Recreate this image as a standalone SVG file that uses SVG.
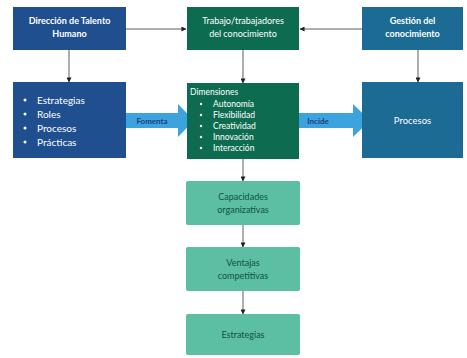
<svg xmlns="http://www.w3.org/2000/svg" width="467" height="358" viewBox="0 0 467 358">
<defs>
<style>
.t{font-family:Lato,"Open Sans","Liberation Sans",sans-serif;}
.w{fill:#ffffff;}
.g{fill:#0f5240;}
.hd{font-size:9px;font-weight:bold;text-anchor:middle;}
.c{text-anchor:middle;}
.navy{fill:#1f4f8f;}
.green{fill:#0d6b50;}
.steel{fill:#1c6b94;}
.teal{fill:#5cbfa4;}
.ln{stroke:#333333;stroke-width:0.8;fill:none;}
.blk{fill:#3ca3de;}
.al{font-size:8px;font-weight:bold;fill:#1d3f7c;text-anchor:middle;}
</style>
<marker id="ah" viewBox="0 0 6 6" refX="5.5" refY="3" markerWidth="5" markerHeight="5" markerUnits="userSpaceOnUse" orient="auto">
<path d="M0,0 L6,3 L0,6 Z" fill="#222"/>
</marker>
</defs>
<rect width="467" height="358" fill="#ffffff"/>

<g id="connectors">
<path class="ln" d="M126,29 H186" marker-end="url(#ah)"/>
<path class="ln" d="M362,29 H300" marker-end="url(#ah)"/>
<path class="ln" d="M69,50 V82" marker-end="url(#ah)"/>
<path class="ln" d="M243,50 V83" marker-end="url(#ah)"/>
<path class="ln" d="M418,50 V82" marker-end="url(#ah)"/>
<path class="ln" d="M243,159 V181" marker-end="url(#ah)"/>
<path class="ln" d="M243,225 V247" marker-end="url(#ah)"/>
<path class="ln" d="M243,291 V314" marker-end="url(#ah)"/>
<g id="fomenta">
<path class="blk" d="M126,113 H178 V104 L194,120.5 L178,137 V128 H126 Z"/>
<text class="t al" x="152" y="123.5">Fomenta</text>
</g>
<g id="incide">
<path class="blk" d="M291,113 H353 V104 L370,120.5 L353,137 V128 H291 Z"/>
<text class="t al" x="318" y="123.5">Incide</text>
</g>
</g>

<g id="direccion">
<rect class="navy" x="13" y="7" width="113" height="43"/>
<text class="t w hd" x="69.5" y="24">Dirección de Talento</text>
<text class="t w hd" x="69.5" y="37">Humano</text>
</g>

<g id="trabajo">
<rect class="green" x="187" y="7" width="112" height="43"/>
<text class="t w c" font-size="9" x="243" y="24">Trabajo/trabajadores</text>
<text class="t w c" font-size="9" x="243" y="37">del conocimiento</text>
</g>

<g id="gestion">
<rect class="steel" x="362" y="7" width="101" height="43"/>
<text class="t w hd" x="412.5" y="24">Gestión del</text>
<text class="t w hd" x="412.5" y="37">conocimiento</text>
</g>

<g id="practicas">
<rect class="navy" x="13" y="82" width="113" height="76"/>
<g class="t w" font-size="10">
<circle class="w" cx="25" cy="100" r="1.5"/><text x="37" y="103.5">Estrategias</text>
<circle class="w" cx="25" cy="114" r="1.5"/><text x="37" y="117.5">Roles</text>
<circle class="w" cx="25" cy="128" r="1.5"/><text x="37" y="131.5">Procesos</text>
<circle class="w" cx="25" cy="142" r="1.5"/><text x="37" y="145.5">Prácticas</text>
</g>
</g>

<g id="dimensiones">
<rect class="green" x="187" y="83" width="112" height="76"/>
<g class="t w" font-size="8.5">
<text x="190" y="95">Dimensiones</text>
<circle class="w" cx="201" cy="104" r="1.2"/><text x="213" y="107">Autonomía</text>
<circle class="w" cx="201" cy="115" r="1.2"/><text x="213" y="118">Flexibilidad</text>
<circle class="w" cx="201" cy="126" r="1.2"/><text x="213" y="129">Creatividad</text>
<circle class="w" cx="201" cy="137" r="1.2"/><text x="213" y="140">Innovación</text>
<circle class="w" cx="201" cy="148" r="1.2"/><text x="213" y="151">Interacción</text>
</g>
</g>

<g id="procesos">
<rect class="steel" x="362" y="82" width="101" height="76"/>
<text class="t w c" font-size="9.5" x="412.5" y="124">Procesos</text>
</g>

<g id="capacidades">
<rect class="teal" x="186" y="181" width="114" height="44" rx="2"/>
<text class="t g c" font-size="9" x="243" y="200">Capacidades</text>
<text class="t g c" font-size="9" x="243" y="213">organizativas</text>
</g>

<g id="ventajas">
<rect class="teal" x="186" y="247" width="114" height="44" rx="2"/>
<text class="t g c" font-size="9" x="243" y="266">Ventajas</text>
<text class="t g c" font-size="9" x="243" y="279">competitivas</text>
</g>

<g id="estrategias">
<rect class="teal" x="186" y="314" width="114" height="41" rx="2"/>
<text class="t g c" font-size="9" x="243" y="338">Estrategias</text>
</g>
</svg>
